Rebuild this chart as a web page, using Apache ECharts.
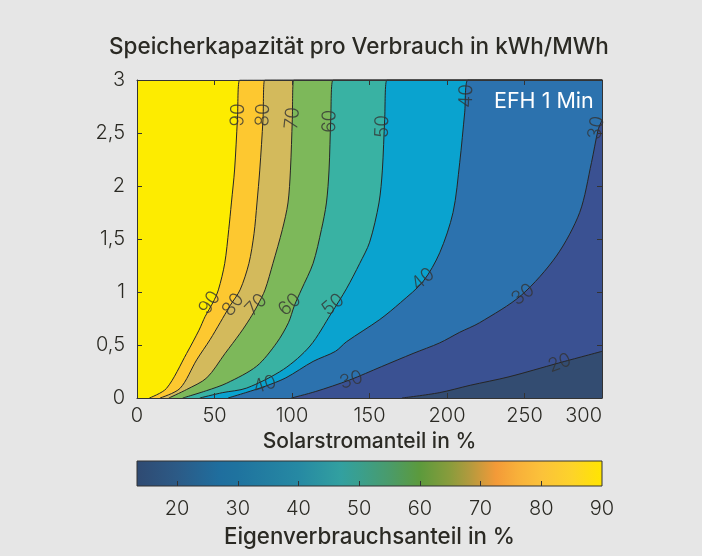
<!DOCTYPE html>
<html>
<head>
<meta charset="utf-8">
<script src="https://cdn.jsdelivr.net/npm/echarts@6/dist/echarts.min.js"></script>
<style>
html,body{margin:0;padding:0;background:#e6e6e6;}
#c{width:702px;height:556px;}
</style>
</head>
<body>
<div id="c"></div>
<script>
// ---- data ----
const xTickValues = [0, 50, 100, 150, 200, 250, 300];
const yTickValues = [0, 0.5, 1, 1.5, 2, 2.5, 3];
const levels = [90, 80, 70, 60, 50, 40, 30, 20];
const contour90 = [[8,0],[19,0.09],[32,0.42],[40,0.64],[44,0.77],[49,0.9],[52.5,1.02],[56.6,1.27],[59.2,1.59],[60.9,1.84],[63,2.16],[64.8,2.63],[66.3,3]];
const contour80 = [[14.8,0],[27.7,0.09],[38.5,0.36],[47.1,0.55],[53.6,0.71],[60,0.87],[66.5,1.02],[72.2,1.27],[75.5,1.55],[77.4,1.84],[79.2,2.15],[81.3,2.63],[82.4,3]];
const contour70 = [[20.5,0],[32,0.08],[45,0.19],[56.8,0.42],[66.5,0.61],[72.9,0.75],[78,0.88],[82.6,1.02],[87.7,1.27],[93.8,1.59],[97.4,1.84],[99,2.15],[100.2,2.63],[101.1,3]];
const contour60 = [[29.5,0],[45,0.07],[57.9,0.14],[77.2,0.3],[90.1,0.52],[97.7,0.71],[101.5,0.87],[106,1.02],[113.6,1.27],[119,1.59],[122.2,1.84],[123.9,2.15],[125,2.63],[126.5,3]];
const contour50 = [[40.5,0],[55,0.05],[70.8,0.094],[94.5,0.27],[111.6,0.49],[125.4,0.8],[135.1,1.03],[143.7,1.27],[150.1,1.47],[156.1,1.84],[158.3,2.15],[159.8,2.63],[161.3,3]];
const contour40 = [[58.7,0],[70,0.05],[82.6,0.11],[96,0.19],[113.6,0.345],[128,0.44],[135.1,0.53],[156.6,0.74],[170,0.9],[184.6,1.1],[195.3,1.37],[203.9,1.75],[208.2,2.22],[211.4,2.69],[213.6,3]];
const contour30 = [[99.6,0],[115,0.06],[137.2,0.17],[157.6,0.295],[178.1,0.42],[195.3,0.52],[208.2,0.62],[221,0.71],[248,0.97],[270.6,1.34],[285.6,1.75],[293.2,2.22],[297.5,2.53],[300,2.62]];
const contour20 = [[171,0],[195,0.05],[215,0.12],[240,0.2],[272,0.33],[300,0.44]];
const contours = [contour90, contour80, contour70, contour60, contour50, contour40, contour30, contour20];
const labelPoints = [
  [65.2,2.67,'90'],[81.3,2.67,'80'],[100.3,2.64,'70'],[124.3,2.61,'60'],[158.3,2.56,'50'],[212.5,2.85,'40'],[296.4,2.55,'30'],
  [47,0.9,'90'],[62,0.88,'80'],[77,0.88,'70'],[98.5,0.88,'60'],[126.5,0.88,'50'],
  [82.4,0.125,'40'],[138.3,0.17,'30'],[184.5,1.12,'40'],[249,0.975,'30'],[272.7,0.33,'20']
];
const colorbarMin = 13.4, colorbarMax = 90;
const colorbarTicks = [20, 30, 40, 50, 60, 70, 80, 90];
const colorbarStopValues = [13.4, 20, 27, 30, 40, 47, 50, 55, 60, 65, 68, 72.5, 76, 80, 85, 90];
const colorbarStopColors = ['#2f4a72','#2c5a86','#1f6e9e','#1f739f','#2689a3','#32a0a0','#3a9f8e','#4a9b6a','#5c9a3c','#8a9c3c','#b09a3e','#f39a38','#f8b03a','#fbc23a','#fdd32a','#ffe500'];

// ---- styles ----
const topColor = '#fdec00';
const bandColors = ['#fdc830','#d3ba5c','#7db85a','#39b2a3','#0aa3cf','#2c72ae','#3a5192','#334c71'];
const labelAngles = [88,88,84,88,88,88,80, 56,52,46,42,40, 18,18,40,36,20];
const textColor = '#2b2a24';
const FONT = 'Inter, "Noto Sans", sans-serif';

const chart = echarts.init(document.getElementById('c'), null, {renderer:'canvas'});

const fillSeries = contours.map((c, i) => {
  const d = c.slice();
  const last = d[d.length - 1];
  if (last[0] < 300) d.push([300, last[1]]);
  return {
    type: 'line', xAxisIndex: 0, yAxisIndex: 0, data: d,
    symbol: 'none', smooth: 0.3, z: 2 + i * 0.01,
    lineStyle: {color: '#262626', width: 1},
    areaStyle: {color: bandColors[i], opacity: 1},
    animation: false, silent: true
  };
});

const labelSeries = {
  type: 'scatter', xAxisIndex: 0, yAxisIndex: 0, z: 4, symbolSize: 0,
  itemStyle: {color: 'rgba(0,0,0,0)'}, silent: true, animation: false,
  data: labelPoints.map((p, i) => ({
    value: [p[0], p[1]],
    label: {show: true, position: 'inside', formatter: p[2], rotate: labelAngles[i],
      color: '#333333', fontSize: 19, fontWeight: 300, fontFamily: FONT}
  }))
};

const stops = colorbarStopValues.map((v, i) => ({
  offset: (v - colorbarMin) / (colorbarMax - colorbarMin), color: colorbarStopColors[i]
}));

const colorbarSeries = {
  type: 'custom', xAxisIndex: 2, yAxisIndex: 2, data: [[colorbarMin, colorbarMax]],
  animation: false, silent: true, z: 2,
  renderItem: (params, api) => {
    const p0 = api.coord([api.value(0), 0]);
    const p1 = api.coord([api.value(1), 1]);
    return {type: 'rect',
      shape: {x: p0[0], y: p1[1], width: p1[0] - p0[0], height: p0[1] - p1[1]},
      style: {fill: new echarts.graphic.LinearGradient(0, 0, 1, 0, stops), stroke: '#333', lineWidth: 1}};
  }
};

const fmt = v => String(v).replace('.', ',');
const axisCommon = {
  z: 10,
  axisLine: {show: true, onZero: false, lineStyle: {color: '#333', width: 1}},
  axisTick: {show: true, inside: true, length: 5, lineStyle: {color: '#333', width: 1}},
  splitLine: {show: false}
};

const option = {
  backgroundColor: '#e6e6e6',
  animation: false,
  title: [
    {text: 'Speicherkapazität pro Verbrauch in kWh/MWh', left: 104, top: 31,
      textStyle: {color: textColor, fontSize: 22.5, fontWeight: 500, fontFamily: FONT}},
    {text: 'EFH 1 Min', left: 489, top: 86,
      textStyle: {color: '#ffffff', fontSize: 21.5, fontWeight: 400, fontFamily: FONT}}
  ],
  grid: [
    {left: 137, top: 80, width: 465, height: 318, backgroundColor: topColor, show: true, borderWidth: 0},
    {left: 137, top: 461, width: 465, height: 25, show: false}
  ],
  xAxis: [
    Object.assign({}, axisCommon, {type: 'value', gridIndex: 0, min: 0, max: 300, interval: 50, position: 'bottom',
      axisLabel: {color: textColor, fontSize: 20, fontFamily: FONT, fontWeight: 300, margin: 8,
        customValues: xTickValues, alignMaxLabel: 'right'},
      name: 'Solarstromanteil in %', nameLocation: 'middle', nameGap: 32,
      nameTextStyle: {color: textColor, fontSize: 21, fontWeight: 500, fontFamily: FONT}}),
    Object.assign({}, axisCommon, {type: 'value', gridIndex: 0, min: 0, max: 300, interval: 50, position: 'top',
      axisLabel: {show: false}}),
    {type: 'value', gridIndex: 1, min: colorbarMin, max: colorbarMax, z: 10,
      axisLine: {show: false}, splitLine: {show: false},
      axisTick: {show: true, inside: true, length: 5, lineStyle: {color: '#333'}, customValues: colorbarTicks.slice(0, -1)},
      axisLabel: {color: textColor, fontSize: 20, fontFamily: FONT, fontWeight: 300, margin: 13, customValues: colorbarTicks},
      name: 'Eigenverbrauchsanteil in %', nameLocation: 'middle', nameGap: 40,
      nameTextStyle: {color: textColor, fontSize: 22.3, fontWeight: 500, fontFamily: FONT}}
  ],
  yAxis: [
    Object.assign({}, axisCommon, {type: 'value', gridIndex: 0, min: 0, max: 3, interval: 0.5, position: 'left',
      axisLabel: {color: textColor, fontSize: 20, fontFamily: FONT, fontWeight: 300, margin: 12,
        customValues: yTickValues, formatter: fmt}}),
    Object.assign({}, axisCommon, {type: 'value', gridIndex: 0, min: 0, max: 3, interval: 0.5, position: 'right',
      axisLabel: {show: false}}),
    {type: 'value', gridIndex: 1, min: 0, max: 1, show: false}
  ],
  series: fillSeries.concat([labelSeries, colorbarSeries])
};
chart.setOption(option);
</script>
</body>
</html>
